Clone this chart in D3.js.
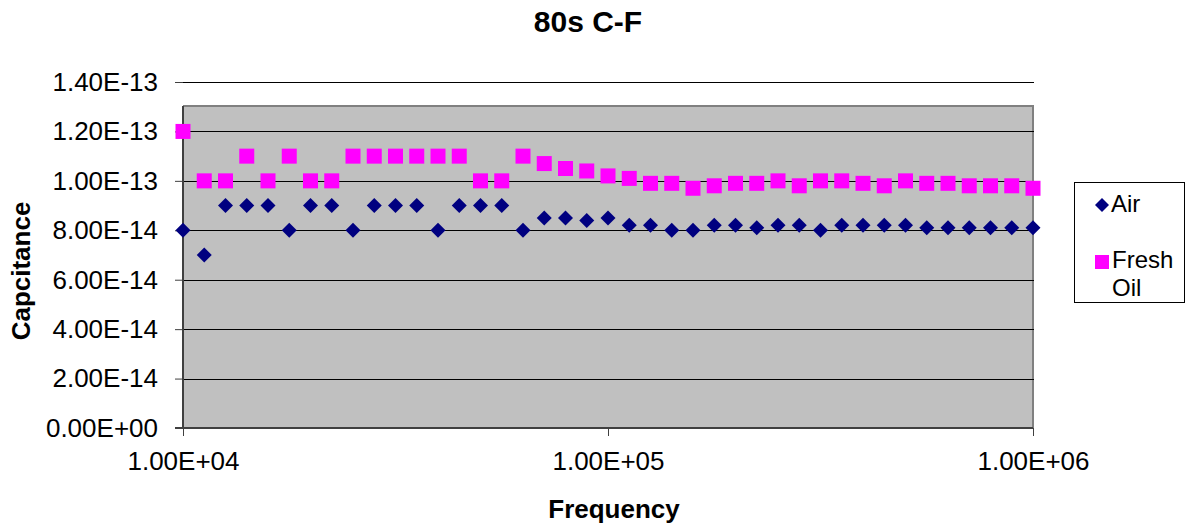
<!DOCTYPE html>
<html>
<head>
<meta charset="utf-8">
<script src="https://cdn.jsdelivr.net/npm/d3@7"></script>
<style>
  html, body { margin: 0; padding: 0; background: #fff; }
  svg { display: block; font-family: "Liberation Sans", Arial, sans-serif; }
</style>
</head>
<body>
<svg id="chart" width="1188" height="527"></svg>
<script>
// Sweep frequencies (Hz), 20 points per decade
const frequency = [
  10000, 11220, 12589, 14125, 15849, 17783, 19953, 22387, 25119, 28184,
  31623, 35481, 39811, 44668, 50119, 56234, 63096, 70795, 79433, 89125,
  100000, 112202, 125893, 141254, 158489, 177828, 199526, 223872, 251189, 281838,
  316228, 354813, 398107, 446684, 501187, 562341, 630957, 707946, 794328, 891251,
  1000000
];

// Measured capacitance (F)
const air = [
  8.0e-14, 7.0e-14, 9.0e-14, 9.0e-14, 9.0e-14, 8.0e-14, 9.0e-14, 9.0e-14, 8.0e-14, 9.0e-14,
  9.0e-14, 9.0e-14, 8.0e-14, 9.0e-14, 9.0e-14, 9.0e-14, 8.0e-14, 8.5e-14, 8.5e-14, 8.4e-14,
  8.5e-14, 8.2e-14, 8.2e-14, 8.0e-14, 8.0e-14, 8.2e-14, 8.2e-14, 8.1e-14, 8.2e-14, 8.2e-14,
  8.0e-14, 8.2e-14, 8.2e-14, 8.2e-14, 8.2e-14, 8.1e-14, 8.1e-14, 8.1e-14, 8.1e-14, 8.1e-14,
  8.1e-14
];

const freshOil = [
  1.20e-13, 1.00e-13, 1.00e-13, 1.10e-13, 1.00e-13, 1.10e-13, 1.00e-13, 1.00e-13, 1.10e-13, 1.10e-13,
  1.10e-13, 1.10e-13, 1.10e-13, 1.10e-13, 1.00e-13, 1.00e-13, 1.10e-13, 1.07e-13, 1.05e-13, 1.04e-13,
  1.02e-13, 1.01e-13, 0.99e-13, 0.99e-13, 0.97e-13, 0.98e-13, 0.99e-13, 0.99e-13, 1.00e-13, 0.98e-13,
  1.00e-13, 1.00e-13, 0.99e-13, 0.98e-13, 1.00e-13, 0.99e-13, 0.99e-13, 0.98e-13, 0.98e-13, 0.98e-13,
  0.97e-13
];

const xTicks = [1e4, 1e5, 1e6];
const yTicks = [0, 2e-14, 4e-14, 6e-14, 8e-14, 1e-13, 1.2e-13, 1.4e-13];

const seriesNames = ["Air", "Fresh Oil"];

// Layout
const plotLeft = 183, plotRight = 1033, axisTop = 82, plotBottom = 428, plotTop = 106;
const svg = d3.select("#chart");

const x = d3.scaleLog().domain([1e4, 1e6]).range([plotLeft, plotRight]);
const y = d3.scaleLinear().domain([0, 1.4e-13]).range([plotBottom, axisTop]);

// Excel-like scientific notation: 1.40E-13, 1.00E+04
function sci(v) {
  if (v === 0) return "0.00E+00";
  const s = d3.format(".2e")(v);
  const [m, e] = s.split("e");
  const sign = e[0] === "-" ? "-" : "+";
  const digits = e.replace(/^[+-]/, "").padStart(2, "0");
  return m + "E" + sign + digits;
}

// Plot area background
svg.append("rect")
  .attr("x", plotLeft).attr("y", plotTop)
  .attr("width", plotRight - plotLeft).attr("height", plotBottom - plotTop)
  .attr("fill", "#c0c0c0");

// Plot area frame (top and right)
svg.append("path")
  .attr("d", `M${plotLeft},${plotTop}H${plotRight}V${plotBottom}`)
  .attr("fill", "none").attr("stroke", "#808080").attr("stroke-width", 2);

// Horizontal gridlines
svg.append("g")
  .selectAll("line")
  .data(yTicks.filter(d => d > 0))
  .join("line")
  .attr("x1", plotLeft).attr("x2", plotRight + 1)
  .attr("y1", d => Math.round(y(d)) + 0.5).attr("y2", d => Math.round(y(d)) + 0.5)
  .attr("stroke", "#000").attr("stroke-width", 1);

// Y axis
const yAxis = svg.append("g")
  .attr("transform", `translate(${plotLeft},0)`)
  .call(d3.axisLeft(y).tickValues(yTicks).tickFormat(sci).tickSize(8).tickPadding(17));
yAxis.select(".domain").remove();
yAxis.append("line")
  .attr("x1", 0).attr("x2", 0).attr("y1", plotTop).attr("y2", plotBottom)
  .attr("stroke", "#404040").attr("stroke-width", 2);
yAxis.selectAll(".tick line").attr("stroke", "#404040").attr("stroke-width", 1);
yAxis.selectAll(".tick text")
  .attr("font-size", 26).attr("fill", "#000")
  .attr("font-family", "'Liberation Sans', Arial, sans-serif");

// X axis
const xAxis = svg.append("g")
  .attr("transform", `translate(0,${plotBottom})`)
  .call(d3.axisBottom(x).tickValues(xTicks).tickFormat(sci).tickSize(8).tickPadding(16));
xAxis.select(".domain").remove();
xAxis.append("line")
  .attr("x1", plotLeft - 8).attr("x2", plotRight).attr("y1", 0).attr("y2", 0)
  .attr("stroke", "#404040").attr("stroke-width", 2);
xAxis.selectAll(".tick line").attr("stroke", "#404040").attr("stroke-width", 1);
xAxis.selectAll(".tick text")
  .attr("font-size", 26).attr("fill", "#000")
  .attr("font-family", "'Liberation Sans', Arial, sans-serif");

// Markers
const diamond = s => `M0,${-s}L${s},0L0,${s}L${-s},0Z`;

svg.append("g")
  .selectAll("path")
  .data(frequency.map((f, i) => [f, air[i]]))
  .join("path")
  .attr("transform", d => `translate(${x(d[0])},${y(d[1])})`)
  .attr("d", diamond(7.5))
  .attr("fill", "#000080");

svg.append("g")
  .selectAll("rect")
  .data(frequency.map((f, i) => [f, freshOil[i]]))
  .join("rect")
  .attr("x", d => x(d[0]) - 7.5).attr("y", d => y(d[1]) - 7.5)
  .attr("width", 15).attr("height", 15)
  .attr("fill", "#ff00ff");

// Title and axis titles
svg.append("text")
  .attr("x", 588).attr("y", 32)
  .attr("text-anchor", "middle")
  .attr("font-size", 30).attr("font-weight", "bold")
  .text("80s C-F");

svg.append("text")
  .attr("x", 614).attr("y", 518)
  .attr("text-anchor", "middle")
  .attr("font-size", 26).attr("font-weight", "bold")
  .text("Frequency");

svg.append("text")
  .attr("transform", "translate(30,271) rotate(-90)")
  .attr("text-anchor", "middle")
  .attr("font-size", 26).attr("font-weight", "bold")
  .text("Capcitance");

// Legend
const legend = svg.append("g");
legend.append("rect")
  .attr("x", 1074.5).attr("y", 182.5)
  .attr("width", 110).attr("height", 120)
  .attr("fill", "#fff").attr("stroke", "#000").attr("stroke-width", 1);

legend.append("path")
  .attr("transform", "translate(1102,205)")
  .attr("d", diamond(7))
  .attr("fill", "#000080");
legend.append("text")
  .attr("x", 1111).attr("y", 212)
  .attr("font-size", 24)
  .text(seriesNames[0]);

legend.append("rect")
  .attr("x", 1095).attr("y", 255)
  .attr("width", 14).attr("height", 14)
  .attr("fill", "#ff00ff");
const oilLabel = legend.append("text")
  .attr("x", 1112).attr("y", 268)
  .attr("font-size", 24);
oilLabel.append("tspan").attr("x", 1112).text(seriesNames[1].split(" ")[0]);
oilLabel.append("tspan").attr("x", 1112).attr("dy", 28).text(seriesNames[1].split(" ")[1]);
</script>
</body>
</html>
